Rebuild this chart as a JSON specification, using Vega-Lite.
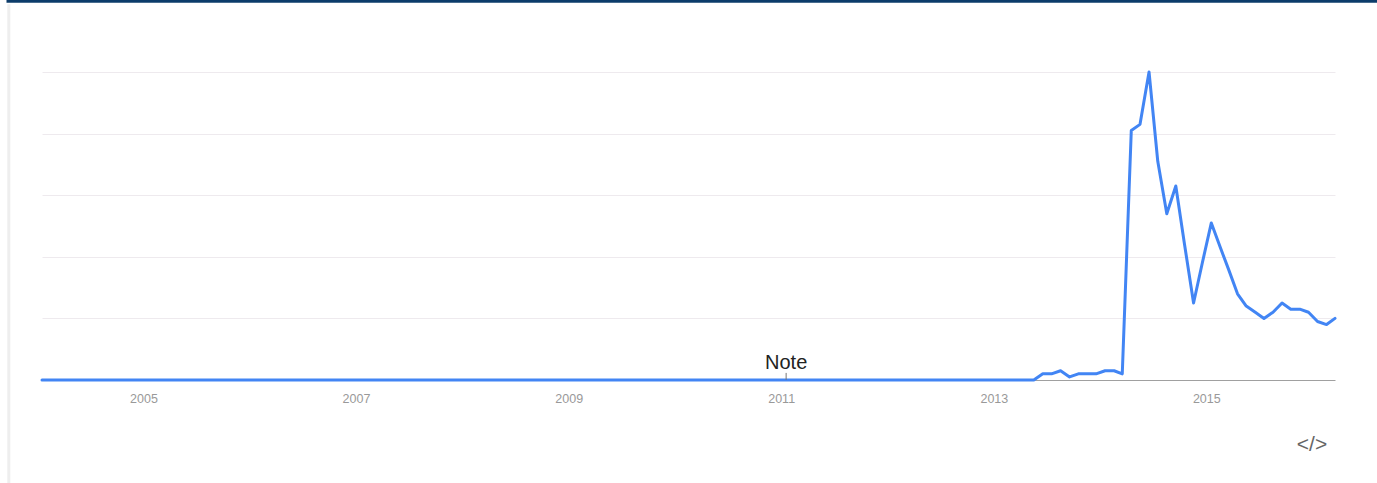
{
  "$schema": "https://vega.github.io/schema/vega-lite/v6.json",
  "width": 1293,
  "height": 308,
  "autosize": {"type": "none"},
  "padding": {"left": 42, "top": 72, "right": 42, "bottom": 103},
  "background": "#ffffff",
  "config": {"view": {"stroke": null}, "font": "Liberation Sans"},
  "datasets": {
    "trend": [
      {"d":"2004-01-01","v":0},{"d":"2004-02-01","v":0},{"d":"2004-03-01","v":0},{"d":"2004-04-01","v":0},{"d":"2004-05-01","v":0},{"d":"2004-06-01","v":0},{"d":"2004-07-01","v":0},{"d":"2004-08-01","v":0},{"d":"2004-09-01","v":0},{"d":"2004-10-01","v":0},{"d":"2004-11-01","v":0},{"d":"2004-12-01","v":0},
      {"d":"2005-01-01","v":0},{"d":"2005-02-01","v":0},{"d":"2005-03-01","v":0},{"d":"2005-04-01","v":0},{"d":"2005-05-01","v":0},{"d":"2005-06-01","v":0},{"d":"2005-07-01","v":0},{"d":"2005-08-01","v":0},{"d":"2005-09-01","v":0},{"d":"2005-10-01","v":0},{"d":"2005-11-01","v":0},{"d":"2005-12-01","v":0},
      {"d":"2006-01-01","v":0},{"d":"2006-02-01","v":0},{"d":"2006-03-01","v":0},{"d":"2006-04-01","v":0},{"d":"2006-05-01","v":0},{"d":"2006-06-01","v":0},{"d":"2006-07-01","v":0},{"d":"2006-08-01","v":0},{"d":"2006-09-01","v":0},{"d":"2006-10-01","v":0},{"d":"2006-11-01","v":0},{"d":"2006-12-01","v":0},
      {"d":"2007-01-01","v":0},{"d":"2007-02-01","v":0},{"d":"2007-03-01","v":0},{"d":"2007-04-01","v":0},{"d":"2007-05-01","v":0},{"d":"2007-06-01","v":0},{"d":"2007-07-01","v":0},{"d":"2007-08-01","v":0},{"d":"2007-09-01","v":0},{"d":"2007-10-01","v":0},{"d":"2007-11-01","v":0},{"d":"2007-12-01","v":0},
      {"d":"2008-01-01","v":0},{"d":"2008-02-01","v":0},{"d":"2008-03-01","v":0},{"d":"2008-04-01","v":0},{"d":"2008-05-01","v":0},{"d":"2008-06-01","v":0},{"d":"2008-07-01","v":0},{"d":"2008-08-01","v":0},{"d":"2008-09-01","v":0},{"d":"2008-10-01","v":0},{"d":"2008-11-01","v":0},{"d":"2008-12-01","v":0},
      {"d":"2009-01-01","v":0},{"d":"2009-02-01","v":0},{"d":"2009-03-01","v":0},{"d":"2009-04-01","v":0},{"d":"2009-05-01","v":0},{"d":"2009-06-01","v":0},{"d":"2009-07-01","v":0},{"d":"2009-08-01","v":0},{"d":"2009-09-01","v":0},{"d":"2009-10-01","v":0},{"d":"2009-11-01","v":0},{"d":"2009-12-01","v":0},
      {"d":"2010-01-01","v":0},{"d":"2010-02-01","v":0},{"d":"2010-03-01","v":0},{"d":"2010-04-01","v":0},{"d":"2010-05-01","v":0},{"d":"2010-06-01","v":0},{"d":"2010-07-01","v":0},{"d":"2010-08-01","v":0},{"d":"2010-09-01","v":0},{"d":"2010-10-01","v":0},{"d":"2010-11-01","v":0},{"d":"2010-12-01","v":0},
      {"d":"2011-01-01","v":0},{"d":"2011-02-01","v":0},{"d":"2011-03-01","v":0},{"d":"2011-04-01","v":0},{"d":"2011-05-01","v":0},{"d":"2011-06-01","v":0},{"d":"2011-07-01","v":0},{"d":"2011-08-01","v":0},{"d":"2011-09-01","v":0},{"d":"2011-10-01","v":0},{"d":"2011-11-01","v":0},{"d":"2011-12-01","v":0},
      {"d":"2012-01-01","v":0},{"d":"2012-02-01","v":0},{"d":"2012-03-01","v":0},{"d":"2012-04-01","v":0},{"d":"2012-05-01","v":0},{"d":"2012-06-01","v":0},{"d":"2012-07-01","v":0},{"d":"2012-08-01","v":0},{"d":"2012-09-01","v":0},{"d":"2012-10-01","v":0},{"d":"2012-11-01","v":0},{"d":"2012-12-01","v":0},
      {"d":"2013-01-01","v":0},{"d":"2013-02-01","v":0},{"d":"2013-03-01","v":0},{"d":"2013-04-01","v":0},{"d":"2013-05-01","v":0},{"d":"2013-06-01","v":2},{"d":"2013-07-01","v":2},{"d":"2013-08-01","v":3},{"d":"2013-09-01","v":1},{"d":"2013-10-01","v":2},{"d":"2013-11-01","v":2},{"d":"2013-12-01","v":2},
      {"d":"2014-01-01","v":3},{"d":"2014-02-01","v":3},{"d":"2014-03-01","v":2},{"d":"2014-04-01","v":81},{"d":"2014-05-01","v":83},{"d":"2014-06-01","v":100},{"d":"2014-07-01","v":71},{"d":"2014-08-01","v":54},{"d":"2014-09-01","v":63},{"d":"2014-10-01","v":44},{"d":"2014-11-01","v":25},{"d":"2014-12-01","v":38},
      {"d":"2015-01-01","v":51},{"d":"2015-02-01","v":43},{"d":"2015-03-01","v":36},{"d":"2015-04-01","v":28},{"d":"2015-05-01","v":24},{"d":"2015-06-01","v":22},{"d":"2015-07-01","v":20},{"d":"2015-08-01","v":22},{"d":"2015-09-01","v":25},{"d":"2015-10-01","v":23},{"d":"2015-11-01","v":23},{"d":"2015-12-01","v":22},
      {"d":"2016-01-01","v":19},{"d":"2016-02-01","v":18},{"d":"2016-03-01","v":20}
    ],
    "notes": [{"d":"2011-01-01","label":"Note"}]
  },
  "layer": [
    {
      "data": {"name": "trend"},
      "mark": {"type": "line", "color": "#4285f4", "strokeWidth": 3, "strokeJoin": "round", "strokeCap": "round"},
      "encoding": {
        "x": {
          "field": "d", "type": "temporal",
          "scale": {"type": "utc", "domain": [{"year": 2004, "month": 1, "date": 1, "utc": true}, {"year": 2016, "month": 3, "date": 1, "utc": true}], "nice": false},
          "axis": {
            "title": null, "grid": false, "ticks": false, "format": "%Y",
            "values": [{"year": 2005, "month": 1, "date": 1, "utc": true}, {"year": 2007, "month": 1, "date": 1, "utc": true}, {"year": 2009, "month": 1, "date": 1, "utc": true}, {"year": 2011, "month": 1, "date": 1, "utc": true}, {"year": 2013, "month": 1, "date": 1, "utc": true}, {"year": 2015, "month": 1, "date": 1, "utc": true}],
            "labelColor": "#999999", "labelFont": "Liberation Sans", "labelFontSize": 12.5, "labelPadding": 12, "labelOffset": -5,
            "domainColor": "#a0a0a0", "domainWidth": 1, "labelFlush": false
          }
        },
        "y": {
          "field": "v", "type": "quantitative",
          "scale": {"domain": [0, 100], "nice": false, "zero": true},
          "axis": {"title": null, "labels": false, "ticks": false, "domain": false, "values": [20, 40, 60, 80, 100], "grid": true, "gridColor": "#eeeaee", "gridWidth": 1}
        }
      }
    },
    {
      "data": {"name": "notes"},
      "mark": {"type": "rule", "color": "#777777", "strokeWidth": 1},
      "encoding": {
        "x": {"field": "d", "type": "temporal"},
        "y": {"datum": 0},
        "y2": {"datum": 2.3}
      }
    },
    {
      "data": {"name": "notes"},
      "mark": {"type": "text", "fontSize": 20, "font": "Liberation Sans", "color": "#222222", "baseline": "alphabetic", "align": "center", "dy": -11},
      "encoding": {
        "x": {"field": "d", "type": "temporal"},
        "y": {"datum": 0},
        "text": {"field": "label"}
      }
    },
    {
      "data": {"values": [{"icon": "</>"}]},
      "mark": {"type": "text", "fontSize": 21, "font": "Liberation Sans", "color": "#666666", "baseline": "middle", "align": "center", "clip": false},
      "encoding": {
        "x": {"datum": {"year": 2015, "month": 12, "date": 13, "utc": true}, "type": "temporal"},
        "y": {"datum": -21},
        "text": {"field": "icon"}
      }
    },
    {
      "data": {"values": [{}]},
      "mark": {"type": "rule", "color": "#0c3c6a", "strokeWidth": 3, "clip": false},
      "encoding": {
        "x": {"datum": {"year": 2003, "month": 9, "date": 1, "utc": true}, "type": "temporal"},
        "x2": {"datum": {"year": 2016, "month": 10, "date": 1, "utc": true}},
        "y": {"datum": 123}
      }
    },
    {
      "data": {"values": [{}]},
      "mark": {"type": "rule", "color": "#eeeeee", "strokeWidth": 3, "clip": false},
      "encoding": {
        "x": {"datum": {"year": 2003, "month": 9, "date": 9, "utc": true}, "type": "temporal"},
        "y": {"datum": 122},
        "y2": {"datum": -35}
      }
    }
  ]
}
